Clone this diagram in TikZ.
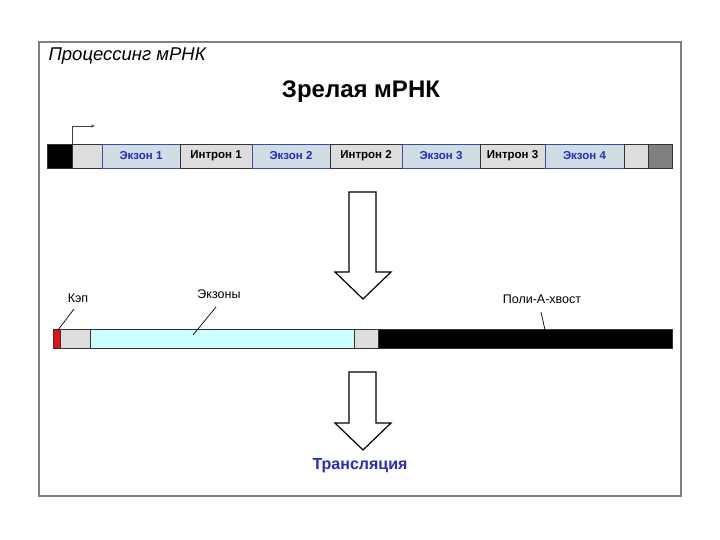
\documentclass[tikz,border=0pt]{standalone}
\usepackage{fontspec}
\setmainfont{Liberation Sans}
\usetikzlibrary{arrows.meta, positioning}
\definecolor{exonfill}{RGB}{208,221,226}
\definecolor{exonblue}{RGB}{40,40,200}
\definecolor{segborder}{RGB}{70,70,170}
\definecolor{lightseg}{RGB}{221,221,221}
\definecolor{darkseg}{RGB}{128,128,128}
\definecolor{maturefill}{RGB}{204,255,255}
\definecolor{capred}{RGB}{225,20,20}
\definecolor{framegray}{RGB}{128,128,128}

\begin{document}
\begin{tikzpicture}[x=1pt, y=-1pt,
  seg/.style={draw=black!80, line width=0.8pt, minimum height=24pt, inner sep=0pt,
              outer sep=0pt, font=\fontsize{11.5}{13}\selectfont\bfseries},
  exon/.style={seg, fill=exonfill, draw=segborder, text=exonblue},
  intron/.style={seg, fill=lightseg},
  rna/.style={draw=black!80, line width=0.8pt, minimum height=19pt, inner sep=0pt, outer sep=0pt},
  lbl/.style={font=\fontsize{12.5}{14}\selectfont},
  bigarrow/.style={draw, line width=1.2pt, fill=white, line join=miter}
]
\useasboundingbox (0,0) rectangle (720,540);
\draw[framegray, line width=1.5pt] (39,42) rectangle (681,496);

\node[anchor=west, font=\fontsize{18.5}{20}\selectfont\itshape] (head) at (45,56) {Процессинг мРНК};
\node[font=\fontsize{24}{28}\selectfont\bfseries] (title) at (361,92) {Зрелая мРНК};

% gene
\node[seg, fill=black, minimum width=25pt, anchor=west] (prom) at (47,156) {};
\node[intron, minimum width=30pt, right=0pt of prom]   (utr5) {};
\node[exon, minimum width=78pt, right=0pt of utr5]     (ex1)  {Экзон 1};
\node[intron, minimum width=72pt, right=0pt of ex1]    (in1)  {Интрон 1};
\node[exon, minimum width=78pt, right=0pt of in1]      (ex2)  {Экзон 2};
\node[intron, minimum width=72pt, right=0pt of ex2]    (in2)  {Интрон 2};
\node[exon, minimum width=78pt, right=0pt of in2]      (ex3)  {Экзон 3};
\node[intron, minimum width=65pt, right=0pt of ex3]    (in3)  {Интрон 3};
\node[exon, minimum width=79pt, right=0pt of in3]      (ex4)  {Экзон 4};
\node[intron, minimum width=24pt, right=0pt of ex4]    (utr3) {};
\node[seg, fill=darkseg, minimum width=24pt, right=0pt of utr3] (term) {};

\coordinate (tss) at (95,126);
\draw[-{Stealth[length=4pt,width=3pt]}, line width=0.7pt, black!75] (prom.north east) |- (tss);

% arrow 1
\draw[bigarrow] (349,192) -- (376,192) -- (376,272) -- (391,272) -- (363,299)
  -- (335,272) -- (349,272) -- cycle;

% mature mRNA
\node[rna, fill=capred, minimum width=7pt, anchor=west] (cap) at (53,338.5) {};
\node[rna, fill=lightseg, minimum width=30pt, right=0pt of cap]   (utr5m) {};
\node[rna, fill=maturefill, minimum width=264pt, right=0pt of utr5m] (exons) {};
\node[rna, fill=lightseg, minimum width=24pt, right=0pt of exons] (utr3m) {};
\node[rna, fill=black, minimum width=294pt, right=0pt of utr3m]   (polya) {};

\node[lbl] (caplbl)   at (78,298) {Кэп};
\node[lbl] (exonlbl)  at (219,294) {Экзоны};
\node[lbl] (polyalbl) at (542,299) {Поли-А-хвост};
\coordinate (capstart) at (74,309);   \coordinate (capend) at (58,330);
\coordinate (exstart) at (216,307);   \coordinate (exend) at (193,335);
\coordinate (polystart) at (541,312); \coordinate (polyend) at (545,330);
\draw[line width=0.7pt] (capstart) -- (capend);
\draw[line width=0.7pt] (exstart) -- (exend);
\draw[line width=0.7pt] (polystart) -- (polyend);

% arrow 2
\draw[bigarrow] (349,372) -- (376,372) -- (376,423) -- (391,423) -- (363,450)
  -- (335,423) -- (349,423) -- cycle;

\node[font=\fontsize{16}{18}\selectfont\bfseries, text=exonblue] (transl) at (360,466) {Трансляция};
\end{tikzpicture}
\end{document}
